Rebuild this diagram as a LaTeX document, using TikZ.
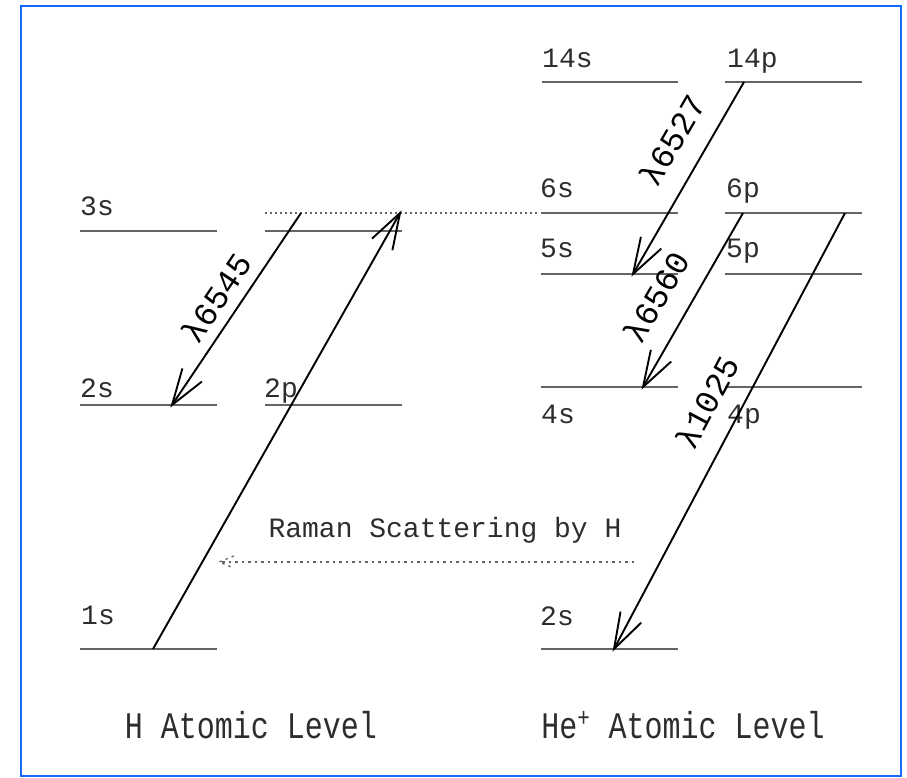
\documentclass[tikz,border=0pt]{standalone}
\usepackage{fontspec}
\usepackage{graphicx}
\setmonofont{Liberation Mono}
\usetikzlibrary{calc}
\definecolor{levgray}{RGB}{100,100,100}
\definecolor{txtgray}{RGB}{45,45,45}
\definecolor{framblue}{RGB}{20,105,255}
\newcommand{\myBarbs}[2]{% tip, start
  \draw[barb] ($(#1)!38pt!18:(#2)$) -- (#1) -- ($(#1)!38pt!-18:(#2)$);}
\newcommand{\myDotBarbs}[2]{%
  \draw[raman] ($(#1)!16pt!22:(#2)$) -- (#1) -- ($(#1)!16pt!-22:(#2)$);}
\begin{document}
\begin{tikzpicture}[x=1pt,y=-1pt,
  lev/.style={draw=levgray, line width=1.5pt},
  virt/.style={draw=levgray, line width=1.2pt, dash pattern=on 1.5pt off 3.5pt},
  trans/.style={draw=black, line width=1.9pt},
  barb/.style={draw=black, line width=1.9pt, line join=miter},
  raman/.style={draw=levgray, line width=1.3pt, dash pattern=on 2.5pt off 4pt},
  lbl/.style={font=\fontsize{28}{28}\selectfont\ttfamily, text=txtgray, anchor=base west, inner sep=0pt},
  lam/.style={font=\fontsize{33}{33}\selectfont\ttfamily, text=black, inner sep=0pt},
  ramtxt/.style={font=\fontsize{28}{28}\selectfont\ttfamily, text=txtgray, anchor=base, inner sep=0pt},
  bottxt/.style={font=\fontsize{30}{30}\selectfont\ttfamily, text=txtgray, anchor=base, inner sep=0pt}]
\useasboundingbox (0,0) rectangle (907,777);
\draw[framblue, line width=2.5pt] (21,6) rectangle (901,776);

% ---------- H levels ----------
\coordinate (h3sL) at (80,231);  \coordinate (h3sR) at (217,231);
\coordinate (h3pL) at (265,231); \coordinate (h3pR) at (402,231);
\coordinate (h2sL) at (80,405);  \coordinate (h2sR) at (217,405);
\coordinate (h2pL) at (265,405); \coordinate (h2pR) at (402,405);
\coordinate (h1sL) at (80,649);  \coordinate (h1sR) at (217,649);
\coordinate (hvL) at (265,213);  \coordinate (hvR) at (540,213);
\draw[lev] (h3sL) -- (h3sR);
\draw[lev] (h3pL) -- (h3pR);
\draw[lev] (h2sL) -- (h2sR);
\draw[lev] (h2pL) -- (h2pR);
\draw[lev] (h1sL) -- (h1sR);
\draw[virt] (hvL) -- (hvR);
\node[lbl] (l3s) at (80,215) {3s};
\node[lbl] (l2s) at (80,397) {2s};
\node[lbl] (l2p) at (264,397) {2p};
\node[lbl] (l1s) at (81,624) {1s};

% ---------- He+ levels ----------
\coordinate (e14sL) at (542,82);  \coordinate (e14sR) at (678,82);
\coordinate (e14pL) at (725,82);  \coordinate (e14pR) at (862,82);
\coordinate (e6sL) at (541,213);  \coordinate (e6sR) at (678,213);
\coordinate (e6pL) at (725,213);  \coordinate (e6pR) at (862,213);
\coordinate (e5sL) at (541,274);  \coordinate (e5sR) at (678,274);
\coordinate (e5pL) at (725,274);  \coordinate (e5pR) at (862,274);
\coordinate (e4sL) at (541,387);  \coordinate (e4sR) at (678,387);
\coordinate (e4pL) at (725,387);  \coordinate (e4pR) at (862,387);
\coordinate (e2sL) at (541,649);  \coordinate (e2sR) at (678,649);
\foreach \n in {14s,14p,6s,6p,5s,5p,4s,4p,2s}{\draw[lev] (e\n L) -- (e\n R);}
\node[lbl] (m14s) at (542,67) {14s};
\node[lbl] (m14p) at (727,67) {14p};
\node[lbl] (m6s) at (540,197) {6s};
\node[lbl] (m6p) at (726,197) {6p};
\node[lbl] (m5s) at (540,257) {5s};
\node[lbl] (m5p) at (726,257) {5p};
\node[lbl] (m4s) at (541,423) {4s};
\node[lbl] (m4p) at (727,423) {4p};
\node[lbl] (m2s) at (540,625) {2s};

% ---------- transitions ----------
\coordinate (a1s) at (153,649); \coordinate (av) at (400,213);
\coordinate (b3) at (301,213);  \coordinate (b2s) at (172,405);
\draw[trans] (a1s) -- (av);  \myBarbs{av}{a1s}
\draw[trans] (b3) -- (b2s);  \myBarbs{b2s}{b3}
\node[lam, rotate=56] (t6545) at (216,298) {λ6545};

\coordinate (c14p) at (744,82);  \coordinate (c5s) at (633,274);
\coordinate (d6p) at (743,213);  \coordinate (d4s) at (643,387);
\coordinate (f6p) at (845,213);  \coordinate (f2s) at (614,649);
\draw[trans] (c14p) -- (c5s);  \myBarbs{c5s}{c14p}
\draw[trans] (d6p) -- (d4s);   \myBarbs{d4s}{d6p}
\draw[trans] (f6p) -- (f2s);   \myBarbs{f2s}{f6p}
\node[lam, rotate=60] (t6527) at (672,140) {λ6527};
\node[lam, rotate=60] (t6560) at (656,297) {λ6560};
\node[lam, rotate=62] (t1025) at (707,402) {λ1025};

% ---------- Raman scattering ----------
\coordinate (rR) at (634,562); \coordinate (rL) at (219,562);
\draw[raman] (rR) -- (rL);
\myDotBarbs{rL}{rR}
\node[ramtxt] (rtxt) at (445,537) {Raman Scattering by H};

% ---------- bottom titles ----------
\node[bottxt] (hT) at (251,738) {\scalebox{1}[1.25]{H Atomic Level}};
\node[bottxt] (heT) at (683,738) {\scalebox{1}[1.25]{He\textsuperscript{+} Atomic Level}};
\end{tikzpicture}
\end{document}
